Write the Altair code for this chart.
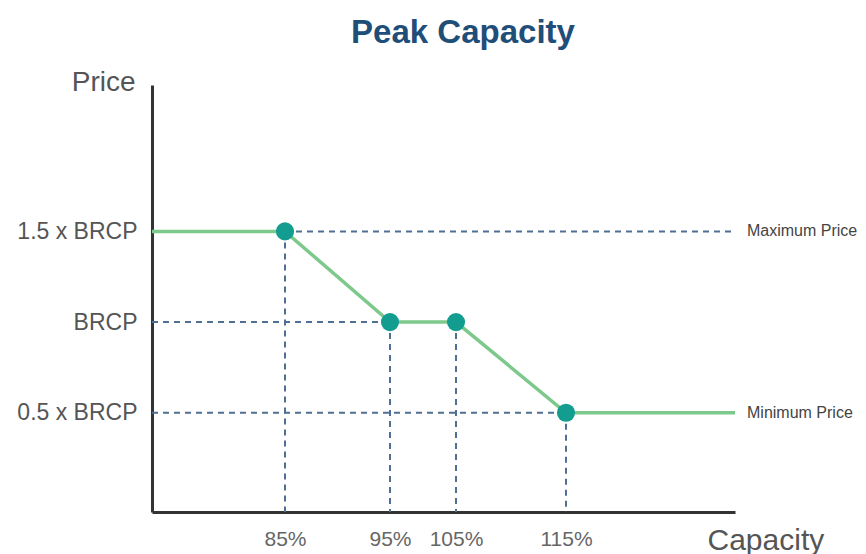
import altair as alt
import pandas as pd

# Price schedule breakpoints (capacity %, price as a multiple of BRCP)
capacity = [85, 95, 105, 115]
price = [1.5, 1.0, 1.0, 0.5]
cap_lo, cap_hi = 72, 130          # capacity range shown on the axis
x_ticks = [85, 95, 105, 115]
y_ticks = [0.5, 1.0, 1.5]
edge_labels = ["Maximum Price", "Minimum Price"]
edge_prices = [1.5, 0.5]
chart_title = "Peak Capacity"

FONT = "Liberation Sans"
W, H = 583, 427

curve = pd.DataFrame({
    "cap": [cap_lo] + capacity + [cap_hi],
    "price": [price[0]] + price + [price[-1]],
})
points = pd.DataFrame({"cap": capacity, "price": price})
hguides = pd.DataFrame({
    "cap": [capacity[0], cap_lo, cap_lo],
    "cap2": [cap_hi, capacity[1], capacity[3]],
    "price": [price[0], price[1], price[3]],
})
edges = pd.DataFrame({"cap": [cap_hi, cap_hi], "price": edge_prices, "label": edge_labels})

xscale = alt.Scale(domain=[cap_lo, 85, 95, 105, 115, cap_hi],
                   range=[0, 133, 238, 304, 414, W], nice=False)
yscale = alt.Scale(domain=[-0.047, 2.307], nice=False)

xaxis = alt.Axis(values=x_ticks, labelExpr="datum.value + '%'", ticks=False, grid=False,
                 domainColor="#333333", domainWidth=3, labelFontSize=21, labelColor="#666666",
                 labelFont=FONT, labelPadding=16, title="Capacity", titleFont=FONT,
                 titleFontSize=30, titleFontWeight="normal", titleColor="#555555",
                 titleX=555, titleY=28, titleAlign="left", titleBaseline="middle",
                 titleAnchor="start")
yaxis = alt.Axis(values=y_ticks,
                 labelExpr="datum.value == 1 ? 'BRCP' : format(datum.value, '.1f') + ' x BRCP'",
                 ticks=False, grid=False, domainColor="#333333", domainWidth=3,
                 labelFontSize=23, labelColor="#555555", labelFont=FONT, labelPadding=15,
                 title="Price", titleFont=FONT, titleFontSize=28, titleFontWeight="normal",
                 titleColor="#555555", titleAngle=0, titleX=-17, titleY=-3,
                 titleAlign="right", titleBaseline="middle", titleAnchor="start")


def X(field):
    return alt.X(field, type="quantitative", scale=xscale, axis=xaxis)


def Y(field):
    return alt.Y(field, type="quantitative", scale=yscale, axis=yaxis)


dash = dict(color="#4f6f94", strokeDash=[6, 5], strokeWidth=2)

h_rules = alt.Chart(hguides).mark_rule(**dash).encode(x=X("cap"), x2="cap2", y=Y("price"))
v_rules = alt.Chart(points).mark_rule(**dash).encode(x=X("cap"), y=Y("price"), y2=alt.value(H))

line = alt.Chart(curve).mark_line(color="#7dc98c", strokeWidth=3.5).encode(x=X("cap"), y=Y("price"))

dots = alt.Chart(points).mark_circle(color="#129d90", size=330, opacity=1).encode(
    x=X("cap"), y=Y("price"))

edge_text = alt.Chart(edges).mark_text(align="left", baseline="middle", dx=12, fontSize=16,
                                       font=FONT, color="#444444").encode(
    x=X("cap"), y=Y("price"), text="label")

title = alt.Chart(pd.DataFrame({"t": [chart_title]})).mark_text(
    fontSize=33, fontWeight="bold", font=FONT, color="#1f4e79",
    align="center", baseline="middle").encode(
    text="t", x=alt.value(311), y=alt.value(-52))

chart = alt.layer(h_rules, v_rules, line, dots, edge_text, title).properties(
    width=W, height=H,
    autosize=alt.AutoSizeParams(type="none"),
    padding={"left": 152, "top": 85, "right": 866 - 152 - W, "bottom": 554 - 85 - H},
    background="white",
).configure_view(stroke=None)

chart.save("out.html", embed_options={"renderer": "svg", "actions": False})
